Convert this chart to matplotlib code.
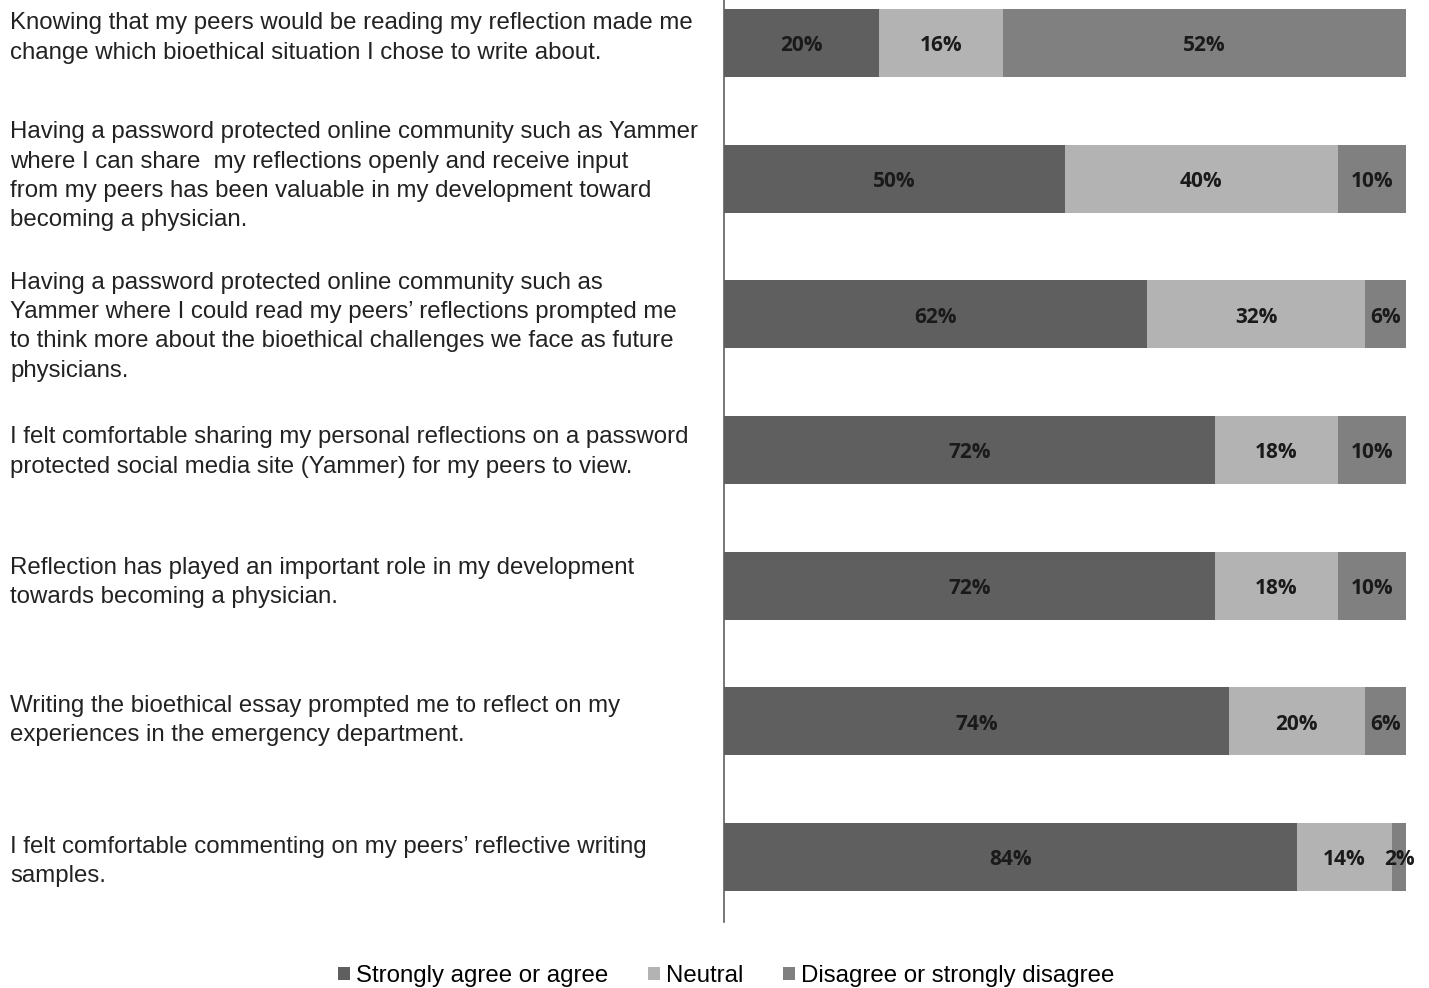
import matplotlib
matplotlib.use("Agg")
import matplotlib.pyplot as plt
from matplotlib.patches import Patch
import numpy as np

statements = [
    "Knowing that my peers would be reading my reflection made me\nchange which bioethical situation I chose to write about.",
    "Having a password protected online community such as Yammer\nwhere I can share  my reflections openly and receive input\nfrom my peers has been valuable in my development toward\nbecoming a physician.",
    "Having a password protected online community such as\nYammer where I could read my peers\u2019 reflections prompted me\nto think more about the bioethical challenges we face as future\nphysicians.",
    "I felt comfortable sharing my personal reflections on a password\nprotected social media site (Yammer) for my peers to view.",
    "Reflection has played an important role in my development\ntowards becoming a physician.",
    "Writing the bioethical essay prompted me to reflect on my\nexperiences in the emergency department.",
    "I felt comfortable commenting on my peers\u2019 reflective writing\nsamples.",
]
agree = [20, 50, 62, 72, 72, 74, 84]
neutral = [16, 40, 32, 18, 18, 20, 14]
disagree = [52, 10, 6, 10, 10, 6, 2]

series_names = ["Strongly agree or agree", "Neutral", "Disagree or strongly disagree"]
colors = ["#5f5f5f", "#b3b3b3", "#808080"]

W, H = 1429, 988
fig = plt.figure(figsize=(W / 100, H / 100), dpi=100)
ax = fig.add_axes([724 / W, 1 - 922 / H, (1406 - 724) / W, 922 / H])

data = np.array([agree, neutral, disagree], dtype=float)
totals = data.sum(axis=0)
frac = data / totals
y = np.arange(len(statements))
left = np.zeros(len(statements))
for k in range(3):
    ax.barh(y, frac[k], left=left, height=0.5, color=colors[k], edgecolor="none")
    for i in range(len(statements)):
        ax.text(left[i] + frac[k][i] / 2, y[i] + 0.02, f"{int(data[k][i])}%",
                ha="center", va="center", fontsize=15, fontweight="bold",
                color="#1a1a1a", family="Open Sans")
    left += frac[k]

ax.set_xlim(0, 1)
ax.set_ylim(6 + 0.479, -0.317)
for s in ["top", "right", "bottom"]:
    ax.spines[s].set_visible(False)
ax.spines["left"].set_color("#606060")
ax.spines["left"].set_linewidth(1.2)
ax.set_xticks([])
ax.set_yticks([])

# statement labels (vertical nudges in pixels relative to bar centre)
label_nudge_px = [5, 2.5, -12.5, -2, 3, 1, -4.5]
fig.canvas.draw()
for i, s in enumerate(statements):
    yc = ax.transData.transform((0, y[i]))[1] + label_nudge_px[i]
    fig.text(10 / W, yc / H, s, ha="left", va="center", fontsize=17.3,
             family="Liberation Sans", color="#222222", linespacing=1.42)

handles = [Patch(facecolor=c, edgecolor="none") for c in colors]
fig.legend(handles, series_names, loc="center", bbox_to_anchor=(726 / W, 1 - 976 / H),
           ncol=3, frameon=False, handlelength=0.5, handleheight=0.5, handletextpad=0.25,
           columnspacing=1.65, prop={"family": "Liberation Sans", "size": 17.3})

fig.savefig("out.png", dpi=100)
